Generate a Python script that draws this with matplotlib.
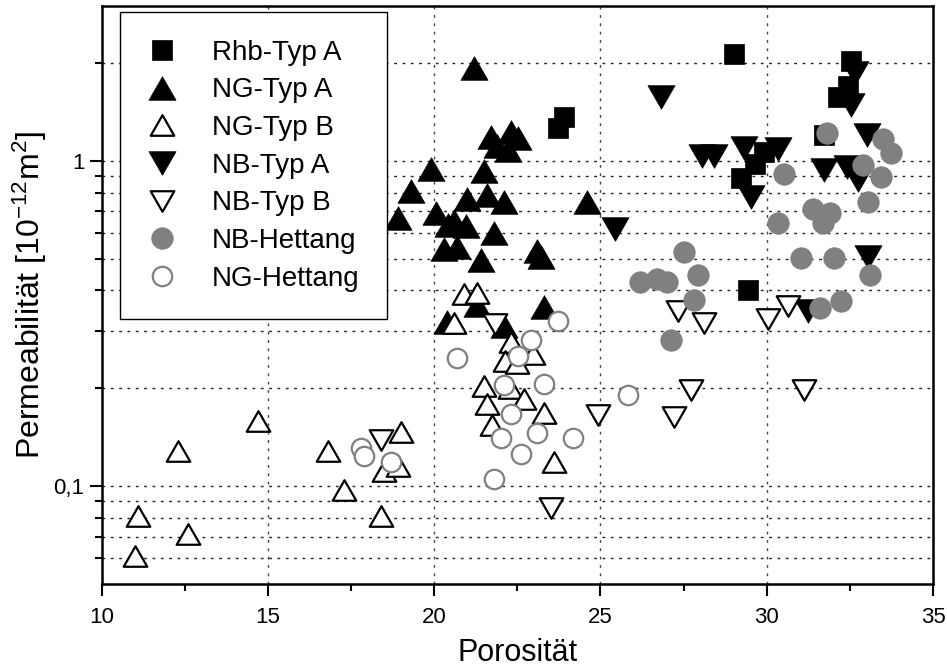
import matplotlib
matplotlib.use("Agg")
import matplotlib.pyplot as plt
from matplotlib.ticker import FixedLocator, NullFormatter, FixedFormatter
from matplotlib.path import Path
import numpy as np

FONT = ['Liberation Sans Narrow', 'Liberation Sans', 'DejaVu Sans']
plt.rcParams['font.family'] = FONT
plt.rcParams['mathtext.fontset'] = 'custom'
plt.rcParams['mathtext.rm'] = 'Liberation Sans'
plt.rcParams['mathtext.it'] = 'Liberation Sans'

# ---------------- data ----------------
rhb_a_x = [23.91, 23.71, 29.03, 32.54, 32.44, 32.14, 31.73, 29.93, 29.65, 29.23, 29.43]
rhb_a_y = [1.364, 1.26, 2.13, 2.03, 1.70, 1.57, 1.20, 1.07, 0.98, 0.884, 0.402]

ng_a_x = [21.2, 21.72, 22.31, 22.53, 21.88, 22.21, 19.9, 21.51, 19.3, 21.0, 21.6, 22.1,
          24.6, 18.9, 20.05, 20.4, 20.6, 20.95, 20.3, 20.7, 21.8, 21.41, 23.08, 23.2,
          21.28, 23.3, 22.1, 20.37]
ng_a_y = [1.93, 1.186, 1.226, 1.178, 1.116, 1.084, 0.943, 0.93, 0.808, 0.767, 0.785, 0.75,
          0.746, 0.669, 0.69, 0.635, 0.655, 0.63, 0.538, 0.545, 0.60, 0.495, 0.53, 0.507,
          0.36, 0.355, 0.312, 0.32]

ng_b_x = [14.69, 12.3, 11.08, 12.59, 11.0, 16.8, 17.3, 19.0, 18.5, 18.9, 18.4, 20.9,
          21.3, 20.6, 22.3, 22.13, 22.5, 22.96, 21.5, 22.28, 22.7, 21.6, 23.3, 21.73, 23.6]
ng_b_y = [0.159, 0.128, 0.0812, 0.0713, 0.0609, 0.128, 0.097, 0.147, 0.111, 0.115, 0.0812, 0.39,
          0.393, 0.318, 0.277, 0.243, 0.24, 0.255, 0.203, 0.20, 0.185, 0.179, 0.168, 0.154, 0.119]

nb_a_x = [26.82, 28.05, 28.42, 29.33, 30.33, 29.54, 25.45, 32.64, 32.54, 33.03, 31.73,
          32.4, 32.74, 33.04, 31.23]
nb_a_y = [1.58, 1.04, 1.04, 1.10, 1.09, 0.776, 0.62, 1.86, 1.49, 1.20, 0.938,
          0.96, 0.874, 0.507, 0.347]

nb_b_x = [18.4, 21.83, 23.5, 24.93, 27.22, 27.72, 31.13, 27.32, 28.12, 30.03, 30.63]
nb_b_y = [0.139, 0.316, 0.0857, 0.166, 0.163, 0.197, 0.197, 0.347, 0.317, 0.327, 0.357]

nb_h_x = [31.8, 33.5, 33.74, 32.9, 33.44, 30.53, 33.04, 31.4, 31.9, 31.7, 30.33, 31.03,
          32.03, 33.11, 27.52, 27.92, 26.2, 26.7, 27.0, 27.82, 31.6, 32.24, 27.12]
nb_h_y = [1.22, 1.17, 1.06, 0.972, 0.895, 0.91, 0.75, 0.711, 0.69, 0.647, 0.647, 0.505,
          0.505, 0.445, 0.526, 0.445, 0.424, 0.434, 0.424, 0.374, 0.353, 0.372, 0.281]

ng_h_x = [17.8, 17.9, 18.7, 20.7, 21.8, 22.0, 22.11, 22.3, 22.51, 22.6, 22.91, 23.1,
          23.3, 23.71, 24.18, 25.82]
ng_h_y = [0.131, 0.124, 0.119, 0.247, 0.105, 0.141, 0.205, 0.167, 0.252, 0.126, 0.282, 0.146,
          0.206, 0.322, 0.141, 0.191]

labels = ['Rhb-Typ A', 'NG-Typ A', 'NG-Typ B', 'NB-Typ A', 'NB-Typ B', 'NB-Hettang', 'NG-Hettang']

x_ticks = [10, 15, 20, 25, 30, 35]
x_minor = [12.5, 17.5, 22.5, 27.5, 32.5]
y_major = [0.1, 1]
y_major_labels = ['0,1', '1']
y_minor = [0.06, 0.07, 0.08, 0.09, 0.2, 0.3, 0.4, 0.5, 0.6, 0.7, 0.8, 0.9, 2]

# ---------------- figure ----------------
fig = plt.figure(figsize=(9.47, 6.70), dpi=100)
ax = fig.add_axes([101.7 / 947, 1 - 584 / 670, 831.3 / 947, 578 / 670])
ax.set_yscale('log')
ax.set_xlim(10, 35)
ax.set_ylim(0.05, 3)

up = Path([(-1, -0.87), (1, -0.87), (0, 0.87), (-1, -0.87)],
          [Path.MOVETO, Path.LINETO, Path.LINETO, Path.CLOSEPOLY])
dn = Path([(-1, 0.87), (1, 0.87), (0, -0.87), (-1, 0.87)],
          [Path.MOVETO, Path.LINETO, Path.LINETO, Path.CLOSEPOLY])

gray = '#808080'
series = [
    (rhb_a_x, rhb_a_y, dict(marker='s', ms=14, mfc='black', mec='black', mew=0.5)),
    (ng_a_x, ng_a_y, dict(marker=up, ms=19.5, mfc='black', mec='black', mew=0.5)),
    (ng_b_x, ng_b_y, dict(marker=up, ms=17, mfc='white', mec='black', mew=1.6)),
    (nb_a_x, nb_a_y, dict(marker=dn, ms=19.5, mfc='black', mec='black', mew=0.5)),
    (nb_b_x, nb_b_y, dict(marker=dn, ms=17, mfc='white', mec='black', mew=1.6)),
    (nb_h_x, nb_h_y, dict(marker='o', ms=15.5, mfc=gray, mec=gray, mew=0.5)),
    (ng_h_x, ng_h_y, dict(marker='o', ms=14, mfc='white', mec=gray, mew=1.6)),
]
handles = []
for (xs, ys, st), lab in zip(series, labels):
    h, = ax.plot(xs, ys, linestyle='none', label=lab, zorder=3, **st)
    handles.append(h)

# ticks
ax.xaxis.set_major_locator(FixedLocator(x_ticks))
ax.xaxis.set_minor_locator(FixedLocator(x_minor))
ax.yaxis.set_major_locator(FixedLocator(y_major))
ax.yaxis.set_major_formatter(FixedFormatter(y_major_labels))
ax.yaxis.set_minor_locator(FixedLocator(y_minor))
ax.yaxis.set_minor_formatter(NullFormatter())
ax.tick_params(which='major', direction='out', length=8.5, width=1.5, labelsize=16, pad=4,
               top=False, right=False)
ax.tick_params(which='minor', direction='out', length=5, width=1.5, top=False, right=False)
ax.tick_params(axis='x', which='major', pad=8)

# grid
for v in x_ticks[1:-1]:
    ax.axvline(v, color='#444444', lw=1.0, linestyle=(0, (2, 4)), zorder=1)
for v in y_major + y_minor:
    ax.axhline(v, color='#222222', lw=1.0, linestyle=(0, (2, 4)), zorder=1)

for s in ax.spines.values():
    s.set_linewidth(1.8)

ax.set_xlabel('Porosität', fontsize=22, labelpad=7)
ax.set_ylabel(r'Permeabilität [10$^{\mathregular{-12}}$m$^{\mathregular{2}}$]', fontsize=23, labelpad=3)

leg = ax.legend(handles=handles, loc='upper left', bbox_to_anchor=(0.022, 0.99),
                borderaxespad=0, fontsize=20, frameon=True, fancybox=False,
                framealpha=1, edgecolor='black', borderpad=1.0, labelspacing=0.42,
                handlelength=1.0, handletextpad=1.3, numpoints=1)
leg.get_frame().set_linewidth(1.0)

fig.savefig('out.png', dpi=100)
